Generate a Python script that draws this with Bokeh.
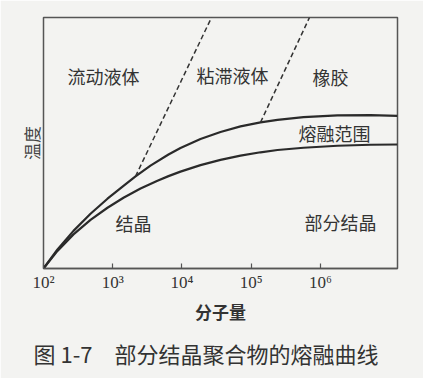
import numpy as np
from bokeh.plotting import figure
from bokeh.models import Label, Title, FixedTicker, Range1d
from bokeh.embed import file_html
from bokeh.resources import INLINE

# ---- data ----
# upper melting curve (log10 of molecular weight, temperature in arbitrary units 0-100)
upper_log_mw = [2.0, 2.202, 2.433, 2.679, 2.924, 3.155, 3.329, 3.545, 3.805, 3.978,
                4.267, 4.556, 4.845, 5.134, 5.379, 5.755, 6.245, 6.722, 7.112]
upper_temp = [0.0, 7.6, 15.0, 21.8, 27.8, 32.9, 36.7, 41.0, 45.4, 48.0,
              51.6, 54.4, 56.6, 58.2, 59.2, 60.3, 61.0, 61.1, 60.8]
# lower melting curve
lower_log_mw = [2.0, 2.202, 2.433, 2.679, 2.924, 3.155, 3.401, 3.646, 3.805, 3.978,
                4.267, 4.556, 4.845, 5.134, 5.379, 5.755, 6.245, 6.722, 7.112]
lower_temp = [0.0, 7.0, 13.6, 19.4, 24.2, 28.2, 31.9, 35.0, 36.8, 38.6,
              41.2, 43.3, 45.0, 46.3, 47.2, 48.1, 48.9, 49.3, 49.4]
# dashed boundaries
dash1_log_mw = [3.329, 4.426]
dash1_temp = [36.7, 100.0]
dash2_log_mw = [5.134, 5.841]
dash2_temp = [58.2, 100.0]

tick_values = [100, 1000, 10000, 100000, 1000000]
tick_labels = ["10²", "10³", "10⁴", "10⁵", "10⁶"]

region_names = ["流动液体", "粘滞液体", "橡胶", "熔融范围", "结晶", "部分结晶"]
x_title = "分子量"
y_title = "温度"
caption = "图 1-7　部分结晶聚合物的熔融曲线"

# ---- layout of the region labels (log10 M, temperature) ----
region_pos = [(2.866, 76.5), (4.729, 76.9), (6.144, 76.1),
              (6.202, 53.8), (3.300, 18.3), (6.289, 18.7)]

BG = "#f3f3f1"
INK = "#2a2a2a"
CJK = "Noto Sans CJK SC"

p = figure(width=423, height=378, x_axis_type="log",
           x_range=Range1d(100, 10 ** 7.112), y_range=Range1d(0, 100),
           output_backend="svg", toolbar_location=None,
           min_border_left=43, min_border_right=26,
           min_border_top=17, min_border_bottom=110)
p.background_fill_color = BG
p.border_fill_color = BG
p.xgrid.visible = False
p.ygrid.visible = False
p.outline_line_color = "#555555"
p.outline_line_width = 1.5

up_x = [10 ** v for v in upper_log_mw]
lo_x = [10 ** v for v in lower_log_mw]
p.line(up_x, upper_temp, line_color=INK, line_width=2.2)
p.line(lo_x, lower_temp, line_color=INK, line_width=2.2)
p.line([10 ** v for v in dash1_log_mw], dash1_temp, line_color="#333333",
       line_width=1.5, line_dash="5 3")
p.line([10 ** v for v in dash2_log_mw], dash2_temp, line_color="#333333",
       line_width=1.5, line_dash="5 3")

xa = p.xaxis[0]
xa.ticker = FixedTicker(ticks=tick_values, minor_ticks=[])
xa.major_label_overrides = {t: l for t, l in zip(tick_values, tick_labels)}
xa.major_tick_in = 5
xa.major_tick_out = 0
xa.minor_tick_line_color = None
xa.axis_line_color = "#555555"
xa.axis_line_width = 1.5
xa.major_tick_line_color = "#555555"
xa.major_tick_line_width = 1.2
xa.major_label_text_font = "Liberation Serif"
xa.major_label_text_font_size = "17px"
xa.major_label_text_color = "#333333"
xa.major_label_standoff = 4
xa.axis_label = x_title
xa.axis_label_text_font = CJK
xa.axis_label_text_font_size = "17px"
xa.axis_label_text_font_style = "bold"
xa.axis_label_text_color = "#333333"
xa.axis_label_standoff = 4

ya = p.yaxis[0]
ya.ticker = FixedTicker(ticks=[], minor_ticks=[])
ya.major_tick_line_color = None
ya.minor_tick_line_color = None
ya.major_tick_in = 0
ya.major_tick_out = 0
ya.minor_tick_in = 0
ya.minor_tick_out = 0
ya.major_label_standoff = 0
ya.axis_line_color = None
ya.axis_label = y_title
ya.axis_label_text_font = CJK
ya.axis_label_text_font_size = "17px"
ya.axis_label_text_font_style = "normal"
ya.axis_label_text_color = "#444444"
ya.axis_label_standoff = 0

for name, (lx, ly) in zip(region_names, region_pos):
    p.add_layout(Label(x=10 ** lx, y=ly, text=name, text_align="center",
                       text_baseline="middle", text_font=CJK,
                       text_font_size="18px", text_color="#333333"))

cap = Title(text=caption, text_font=CJK, text_font_size="22px",
            text_font_style="normal", text_color="#333333",
            align="left", offset=-10, standoff=16)
p.add_layout(cap, "below")

open("out.html", "w").write(file_html(p, INLINE))
